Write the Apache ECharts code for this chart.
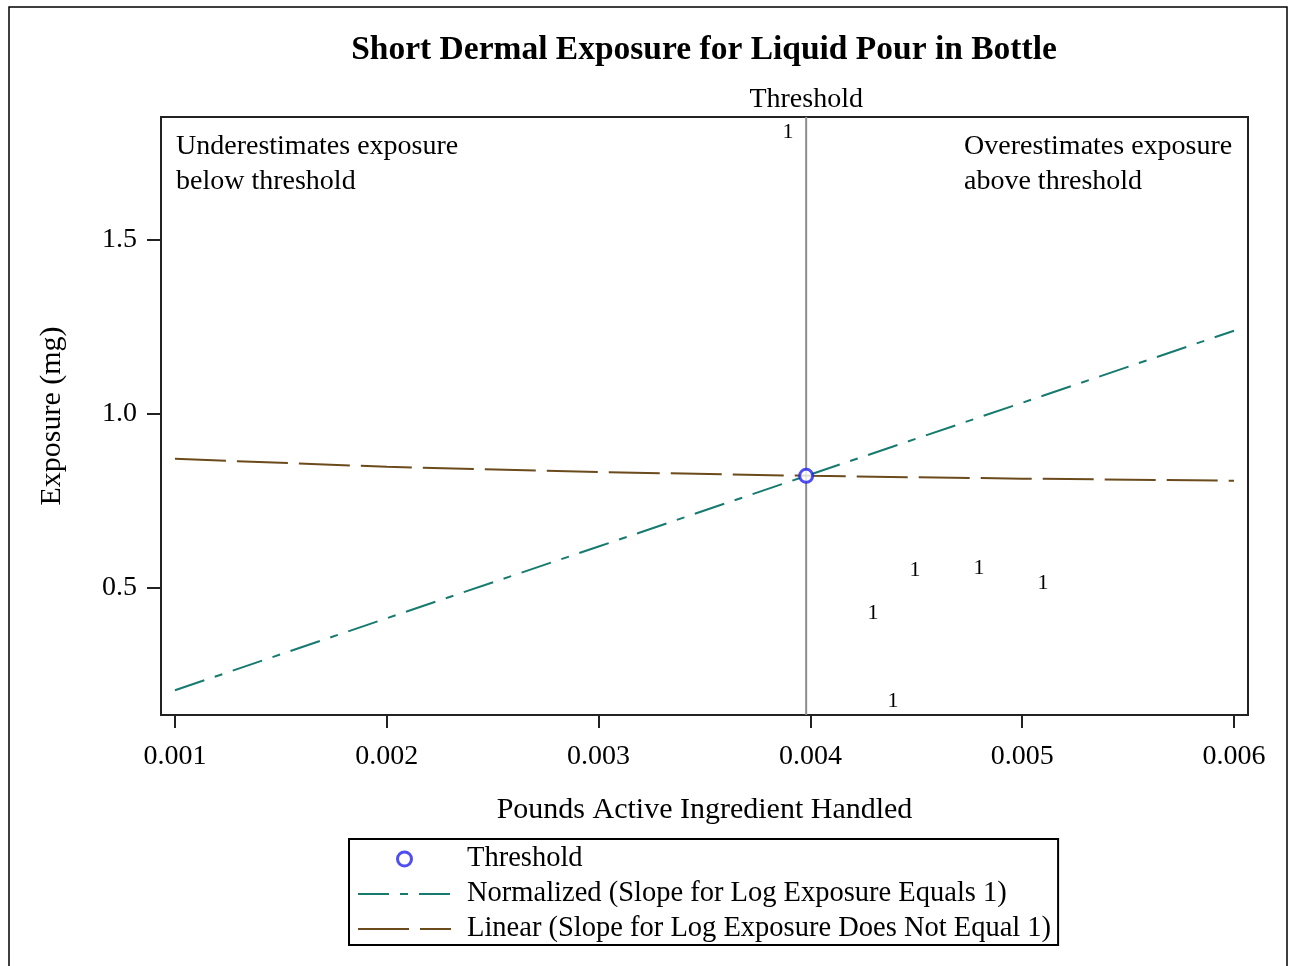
<!DOCTYPE html>
<html>
<head>
<meta charset="utf-8">
<script src="https://cdn.jsdelivr.net/npm/echarts@6/dist/echarts.min.js"></script>
<style>
html,body{margin:0;padding:0;background:#fff;}
#chart{width:1293px;height:966px;}
</style>
</head>
<body>
<div id="chart"></div>
<script>
const FONT = "'Liberation Serif','Times New Roman',serif";

// Pounds active ingredient handled (x) for fitted lines
const lineX = [0.001, 0.002, 0.003, 0.004, 0.005, 0.006];
// Normalized fit (slope for log exposure = 1)
const normalizedY = [0.206, 0.413, 0.619, 0.826, 1.032, 1.239];
// Linear fit (slope for log exposure != 1)
const linearY = [0.871, 0.848, 0.833, 0.822, 0.814, 0.808];
// Threshold point
const thresholdX = [0.00398];
const thresholdY = [0.822];
// Observations (plotted as "1")
const obsX = [0.003894, 0.004296, 0.004494, 0.004796, 0.005098, 0.00439];
const obsY = [1.809, 0.426, 0.550, 0.557, 0.514, 0.176];
const obsLabel = ['1', '1', '1', '1', '1', '1'];
// Axis ranges and tick labels
const xRange = [0.000934, 0.006066];
const yRange = [0.135, 1.853];
const xTicks = [0.001, 0.002, 0.003, 0.004, 0.005, 0.006];
const yTicks = [0.5, 1.0, 1.5];

const zip = (a, b) => a.map((v, i) => [v, b[i]]);

const chart = echarts.init(document.getElementById('chart'), null, {renderer: 'canvas'});

const option = {
  backgroundColor: '#fff',
  animation: false,
  graphic: [
    {type: 'rect', shape: {x: 9, y: 7, width: 1278, height: 1000},
     style: {fill: 'none', stroke: '#000', lineWidth: 1.5}, silent: true, z: -1},
    {type: 'text', x: 704, y: 50,
     style: {text: 'Short Dermal Exposure for Liquid Pour in Bottle', font: 'bold 33.5px ' + FONT,
       fill: '#000', textAlign: 'center', textVerticalAlign: 'middle'}},
    {type: 'text', left: 176, top: 129,
     style: {text: 'Underestimates exposure\nbelow threshold', font: '28px ' + FONT, fill: '#000', lineHeight: 35}},
    {type: 'text', left: 964, top: 129,
     style: {text: 'Overestimates exposure\nabove threshold', font: '28px ' + FONT, fill: '#000', lineHeight: 35}}
  ],
  legend: {
    orient: 'vertical',
    left: 349,
    top: 839,
    itemWidth: 93,
    itemHeight: 14,
    itemGap: 5,
    padding: [5, 7, 1, 8],
    borderColor: '#000',
    borderWidth: 2,
    textStyle: {fontFamily: FONT, fontSize: 28.5, color: '#000', lineHeight: 30, padding: [0, 0, 0, 11]},
    data: [
      {name: 'Threshold', icon: 'circle', itemStyle: {color: '#ffffff', borderColor: '#2222ee', borderWidth: 3}},
      {name: 'Normalized (Slope for Log Exposure Equals 1)', itemStyle: {color: 'rgba(0,0,0,0)', borderWidth: 0}},
      {name: 'Linear (Slope for Log Exposure Does Not Equal 1)', itemStyle: {color: 'rgba(0,0,0,0)', borderWidth: 0}}
    ]
  },
  grid: {
    left: 161, top: 117, right: 45, bottom: 251,
    show: true, borderColor: '#222', borderWidth: 2, backgroundColor: 'transparent'
  },
  xAxis: {
    type: 'value',
    min: xRange[0], max: xRange[1],
    name: 'Pounds Active Ingredient Handled',
    nameLocation: 'middle',
    nameGap: 80,
    nameTextStyle: {fontFamily: FONT, fontSize: 30, color: '#000'},
    axisLine: {show: true, lineStyle: {color: '#222', width: 2}},
    axisTick: {show: true, length: 13, lineStyle: {color: '#222', width: 2}, customValues: xTicks},
    axisLabel: {fontFamily: FONT, fontSize: 28, color: '#000', margin: 28,
      customValues: xTicks, formatter: v => v.toFixed(3)},
    splitLine: {show: false}
  },
  yAxis: {
    type: 'value',
    min: yRange[0], max: yRange[1],
    name: 'Exposure (mg)',
    nameLocation: 'middle',
    nameGap: 94,
    nameTextStyle: {fontFamily: FONT, fontSize: 30, color: '#000'},
    axisLine: {show: true, lineStyle: {color: '#222', width: 2}},
    axisTick: {show: true, length: 14, lineStyle: {color: '#222', width: 2}, customValues: yTicks},
    axisLabel: {fontFamily: FONT, fontSize: 28, color: '#000', margin: 24,
      customValues: yTicks, formatter: v => v.toFixed(1)},
    splitLine: {show: false}
  },
  series: [
    {
      name: 'ThresholdLine',
      type: 'line',
      data: [[thresholdX[0], yRange[0]], [thresholdX[0], yRange[1]]],
      symbol: 'none',
      lineStyle: {color: '#8c8c8c', width: 2, type: 'solid'},
      silent: true,
      z: 1
    },
    {
      name: 'ThresholdLabel',
      type: 'scatter',
      data: [[thresholdX[0], yRange[1]]],
      symbol: 'circle',
      symbolSize: 0.5,
      itemStyle: {color: '#ffffff', opacity: 1},
      label: {show: true, position: 'top', distance: 3, formatter: 'Threshold',
        fontFamily: FONT, fontSize: 28, color: '#000000', opacity: 1},
      silent: true,
      z: 1
    },
    {
      name: 'Linear (Slope for Log Exposure Does Not Equal 1)',
      type: 'line',
      data: zip(lineX, linearY),
      symbol: 'none',
      color: '#6b4a1c',
      lineStyle: {color: '#6b4a1c', width: 2, type: [51, 11]},
      z: 3
    },
    {
      name: 'Normalized (Slope for Log Exposure Equals 1)',
      type: 'line',
      data: zip(lineX, normalizedY),
      symbol: 'none',
      color: '#167a6e',
      lineStyle: {color: '#167a6e', width: 2, type: [31, 11, 8, 11]},
      z: 3
    },
    {
      name: 'Counts',
      type: 'scatter',
      data: zip(obsX, obsY),
      symbol: 'circle',
      symbolSize: 0.5,
      itemStyle: {color: '#ffffff', opacity: 1},
      label: {show: true, position: 'inside', formatter: p => obsLabel[p.dataIndex],
        fontFamily: FONT, fontSize: 22, color: '#000000', opacity: 1},
      silent: true,
      z: 2
    },
    {
      name: 'Threshold',
      type: 'scatter',
      data: zip(thresholdX, thresholdY),
      symbol: 'circle',
      symbolSize: 13,
      color: '#2222ee',
      itemStyle: {color: '#ffffff', borderColor: '#2222ee', borderWidth: 3},
      z: 4
    }
  ]
};
chart.setOption(option);
</script>
</body>
</html>
